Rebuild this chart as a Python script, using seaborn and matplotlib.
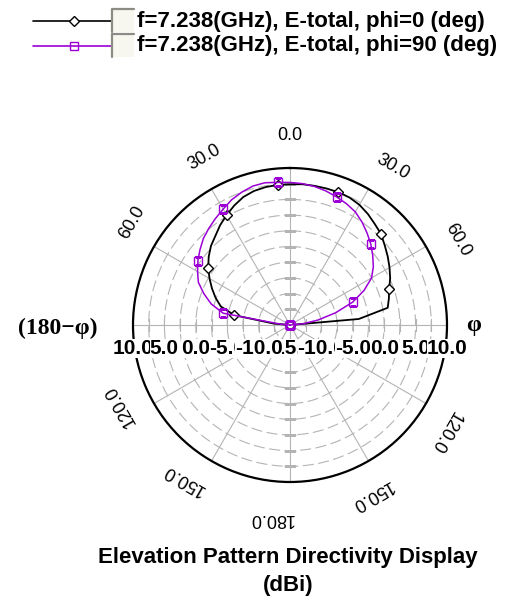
import numpy as np
import pandas as pd
import matplotlib
matplotlib.use("Agg")
import matplotlib.pyplot as plt
from matplotlib.lines import Line2D
from matplotlib.patches import Rectangle
import seaborn as sns

# ---- data -------------------------------------------------------------
# elevation angle theta in degrees (negative side = the phi+180 half-cut)
theta_deg = np.arange(-180, 185, 5)

BACK = [-30.0] * 18  # below the horizon: under the display floor

# E-total directivity (dBi), phi = 0 deg cut, theta = -90 ... 90
d_phi0_front = [-30.0, -12.4, -6.0, -3.6, -2.4, -1.3, -0.2, 0.9, 1.9, 2.8,
                3.5, 4.4, 5.2, 6.0, 6.7, 7.1, 7.3, 7.4, 7.4, 7.5, 7.5, 7.5,
                7.5, 7.4, 7.1, 6.6, 6.0, 5.5, 4.7, 4.0, 3.3, 2.6, 1.8, 1.3,
                0.8, -4.0, -30.0]
# E-total directivity (dBi), phi = 90 deg cut, theta = -90 ... 90
d_phi90_front = [-30.0, -13.5, -4.2, -2.0, -0.4, 1.1, 2.0, 2.9, 3.7, 4.5,
                 5.1, 5.7, 6.3, 7.0, 7.5, 7.9, 8.0, 7.8, 7.7, 7.6, 7.4, 7.1,
                 6.7, 6.3, 5.8, 5.0, 4.1, 3.2, 2.2, 1.2, 0.0, -2.0, -4.4,
                 -7.5, -10.5, -13.0, -30.0]

d_phi0 = BACK + d_phi0_front + BACK
d_phi90 = BACK + d_phi90_front + BACK

series_labels = ["f=7.238(GHz), E-total, phi=0 (deg)",
                 "f=7.238(GHz), E-total, phi=90 (deg)"]
angle_ticks = [0, 30, 60, 120, 150, 180]
radial_ticks_left = [10, 5, 0, -5, -10]
radial_tick_centre = -15
radial_ticks_right = [-10, -5, 0, 5, 10]
R_MIN, R_MAX = -15.0, 10.0
title_lines = ["Elevation Pattern Directivity Display", "(dBi)"]

# ---- figure -----------------------------------------------------------
sns.set_style("white")
plt.rcParams["font.family"] = ["Liberation Sans", "DejaVu Sans"]
plt.rcParams["text.color"] = "black"

W, H = 531, 603
CX, CY, R = 290, 325, 157          # chart centre and radius, px
BLACK = "#000000"
PURPLE = "#9c00d6"
GRID = "#b4b4b4"

fig = plt.figure(figsize=(W / 100, H / 100), dpi=100)
ax = fig.add_axes([(CX - R) / W, (H - CY - R) / H, 2 * R / W, 2 * R / H],
                  projection="polar")
ax.set_theta_zero_location("N")
ax.set_theta_direction(-1)
ax.set_rlim(R_MIN, R_MAX)
ax.set_xticks([])
ax.set_yticks([])
ax.grid(False)
ax.spines["polar"].set_color(BLACK)
ax.spines["polar"].set_linewidth(1.6)

# rings every 2.5 dB, dashed
full = np.linspace(0, 2 * np.pi, 721)
rings = np.arange(R_MIN + 2.5, R_MAX, 2.5)
for rr in rings:
    ax.plot(full, np.full_like(full, rr), color=GRID, lw=0.8,
            ls=(0, (10, 4)), zorder=1)
# spokes every 30 deg
for a in range(0, 360, 30):
    ax.plot([np.deg2rad(a)] * 2, [R_MIN, R_MAX], color=GRID, lw=0.8, zorder=1)
# cross ticks along the main axes
for a, m in [(0, "_"), (180, "_"), (90, "|"), (270, "|")]:
    ax.plot(np.full_like(rings, np.deg2rad(a)), rings, ls="none", marker=m,
            ms=9, mew=0.8, color=GRID, zorder=1)

# ---- curves -----------------------------------------------------------
df = pd.DataFrame({
    "theta": np.deg2rad(theta_deg),
    "phi0": np.maximum(d_phi0, R_MIN),
    "phi90": np.maximum(d_phi90, R_MIN),
})
sns.lineplot(data=df, x="theta", y="phi0", ax=ax, color=BLACK, lw=1.3,
             marker="D", ms=5, mfc="white", mec=BLACK, mew=1.0,
             markevery=(5, 5), estimator=None, sort=False, zorder=3)
sns.lineplot(data=df, x="theta", y="phi90", ax=ax, color=PURPLE, lw=1.1,
             marker="s", ms=6, mfc="none", mec=PURPLE, mew=1.0,
             markevery=(5, 5), estimator=None, sort=False, zorder=4)
ax.set_xlabel("")
ax.set_ylabel("")
ax.set_rlim(R_MIN, R_MAX)


def fig_xy(theta, r_px):
    t = np.deg2rad(theta)
    return (CX + r_px * np.sin(t)) / W, 1 - (CY - r_px * np.cos(t)) / H


# ---- angle labels -----------------------------------------------------
for v in angle_ticks:
    if v == 0:
        fig.text(*fig_xy(0, 189), "0.0", ha="center", va="center", fontsize=13)
        continue
    if v == 180:
        fig.text(*fig_xy(185.5, 194), "180.0", ha="center", va="center",
                 rotation=180, fontsize=13, rotation_mode="anchor")
        continue
    off = 3 if v < 90 else 4.5
    for side in (1, -1):
        ang = side * v + off
        fig.text(*fig_xy(ang, 188), f"{v:.1f}", ha="center", va="center",
                 rotation=-side * v, rotation_mode="anchor", fontsize=13)

# ---- radial scale labels (opaque, later ones cover earlier ones) -------
px_per_db = R / (R_MAX - R_MIN)
ylab = 1 - 348 / H
box = dict(facecolor="white", edgecolor="none", pad=0)


def radial_label(x_px, v):
    fig.text(x_px / W, ylab, f"{v:.1f}", ha="center", va="center",
             fontsize=15, fontweight="bold", bbox=box)


radial_label(CX, radial_tick_centre)
for v in radial_ticks_right:
    radial_label(CX + (v - R_MIN) * px_per_db, v)
for v in radial_ticks_left:
    radial_label(CX - (v - R_MIN) * px_per_db, v)

serif = ["Liberation Serif", "DejaVu Serif"]
fig.text(58 / W, 1 - 328 / H, "(180\u2212\u03c6)", ha="center", va="center",
         fontsize=17, fontweight="bold", family=serif)
fig.text(474 / W, 1 - 325 / H, "\u03c6", ha="center", va="center",
         fontsize=17, fontweight="bold", family=serif)

# ---- legend -----------------------------------------------------------
rows = [(21, BLACK, "D", 5, "white"), (46, PURPLE, "s", 6, "none")]
for (yy, col, mk, ms, fc), lab in zip(rows, series_labels):
    y = 1 - yy / H
    fig.add_artist(Line2D([33 / W, 112 / W], [y, y], color=col, lw=1.2,
                          transform=fig.transFigure))
    fig.add_artist(Line2D([74 / W], [y], marker=mk, ms=ms, mfc=fc, mec=col,
                          mew=1.0, transform=fig.transFigure))
    x0, y0, bw, bh = 112, yy - 12, 22, 23
    fig.add_artist(Rectangle((x0 / W, 1 - (y0 + bh) / H), bw / W, bh / H,
                             transform=fig.transFigure, facecolor="#f7f7f0",
                             edgecolor="none"))
    fig.add_artist(Line2D([x0 / W, x0 / W, (x0 + bw) / W],
                          [1 - (y0 + bh) / H, 1 - y0 / H, 1 - y0 / H],
                          color="#8c8c84", lw=1.6, transform=fig.transFigure))
    fig.text(137 / W, y, lab, ha="left", va="center", fontsize=16,
             fontweight="bold")

# ---- title ------------------------------------------------------------
fig.text(288 / W, 1 - 558 / H, title_lines[0], ha="center", va="center",
         fontsize=16, fontweight="bold")
fig.text(288 / W, 1 - 585 / H, title_lines[1], ha="center", va="center",
         fontsize=16, fontweight="bold")

fig.savefig("out.png", dpi=100)
